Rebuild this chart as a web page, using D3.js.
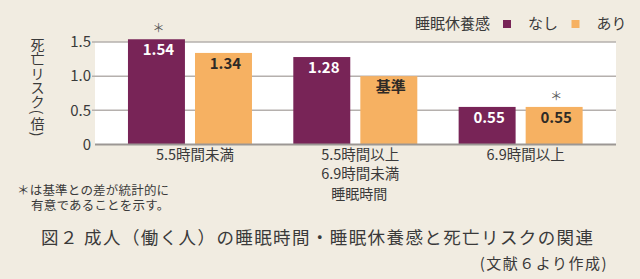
<!DOCTYPE html>
<html>
<head>
<meta charset="utf-8">
<script src="https://cdn.jsdelivr.net/npm/d3@7"></script>
<style>
  body { margin: 0; background: #f1ece1; }
  svg { display: block; font-family: "Noto Sans CJK JP", "Noto Sans", sans-serif; }
</style>
</head>
<body>
<div id="chart"></div>
<script>
// data
const groups = ["5.5時間未満", "5.5時間以上\n6.9時間未満", "6.9時間以上"];
const keys = ["なし", "あり"];
const nashi = [1.54, 1.28, 0.55];
const ari = [1.34, 1.0, 0.55];
const labelsNashi = ["1.54", "1.28", "0.55"];
const labelsAri = ["1.34", "基準", "0.55"];
const sigNashi = [true, false, false];
const sigAri = [false, false, true];
const yTicks = [0, 0.5, 1.0, 1.5];
const yTickLabels = ["0", "0.5", "1.0", "1.5"];
const yTitleChars = ["死", "亡", "リ", "ス", "ク", "(", "倍", ")"];

const colors = { "なし": "#782457", "あり": "#f6b162" };

const width = 640, height = 279;
const plot = { left: 95, right: 616, top: 42, bottom: 144.5 };

const svg = d3.select("#chart").append("svg")
  .attr("width", width)
  .attr("height", height);

svg.append("rect").attr("width", width).attr("height", height).attr("fill", "#f1ece1");

const y = d3.scaleLinear().domain([0, 1.5]).range([plot.bottom, plot.top]);

const x0 = d3.scaleBand().domain(groups).range([107.3, 603.3])
  .paddingInner(0.25).paddingOuter(0.125);
const x1 = d3.scaleBand().domain(keys).range([0, x0.bandwidth()]).paddingInner(0.15);

// white plot area
svg.append("rect")
  .attr("x", plot.left).attr("y", y(1.5))
  .attr("width", plot.right - plot.left).attr("height", y(0) - y(1.5))
  .attr("fill", "#ffffff");

// gridlines
svg.append("g").selectAll("line")
  .data(yTicks.filter(d => d > 0))
  .join("line")
  .attr("x1", plot.left - 3).attr("x2", plot.right)
  .attr("y1", d => y(d)).attr("y2", d => y(d))
  .attr("stroke", "#b5b0ad").attr("stroke-width", 1.5);

// y tick labels
svg.append("g").selectAll("text")
  .data(yTicks)
  .join("text")
  .attr("x", 91).attr("y", d => y(d))
  .attr("dy", "0.35em")
  .attr("text-anchor", "end")
  .attr("font-size", 15)
  .attr("fill", "#3a3a3a")
  .text((d, i) => yTickLabels[i]);

// y title, one glyph per line (vertical); brackets turned
let ty = 37;
svg.append("g").selectAll("text")
  .data(yTitleChars.map(c => {
    const paren = c === "(" || c === ")";
    const h = paren ? 8 : 14.2;
    const cy = ty + h / 2;
    ty += h;
    return { c, paren, cy };
  }))
  .join("text")
  .attr("x", 0).attr("y", 0)
  .attr("transform", d => `translate(37.5,${d.cy})` + (d.paren ? " rotate(90)" : ""))
  .attr("dominant-baseline", "central")
  .attr("text-anchor", "middle")
  .attr("font-size", 14)
  .attr("fill", "#3a3a3a")
  .text(d => d.c);

// bars
const rows = groups.map((g, i) => ({
  group: g,
  bars: [
    { key: "なし", value: nashi[i], label: labelsNashi[i], sig: sigNashi[i] },
    { key: "あり", value: ari[i], label: labelsAri[i], sig: sigAri[i] }
  ]
}));

const gGroup = svg.append("g").selectAll("g")
  .data(rows)
  .join("g")
  .attr("transform", d => `translate(${x0(d.group)},0)`);

gGroup.selectAll("rect")
  .data(d => d.bars)
  .join("rect")
  .attr("x", d => x1(d.key))
  .attr("y", d => y(d.value))
  .attr("width", x1.bandwidth())
  .attr("height", d => y(0) - y(d.value))
  .attr("fill", d => colors[d.key]);

gGroup.selectAll("text.val")
  .data(d => d.bars)
  .join("text")
  .attr("class", "val")
  .attr("x", d => x1(d.key) + x1.bandwidth() / 2 + 2)
  .attr("y", d => y(d.value) + 16)
  .attr("text-anchor", "middle")
  .attr("font-size", 15)
  .attr("font-weight", "bold")
  .attr("fill", d => d.key === "なし" ? "#ffffff" : "#2e2a26")
  .text(d => d.label);

gGroup.selectAll("text.sig")
  .data(d => d.bars.filter(b => b.sig))
  .join("text")
  .attr("class", "sig")
  .attr("x", d => x1(d.key) + x1.bandwidth() / 2 + 2)
  .attr("y", d => y(d.value) - 6)
  .attr("text-anchor", "middle")
  .attr("font-size", 12)
  .attr("fill", "#555")
  .text("＊");

// baseline
svg.append("line")
  .attr("x1", plot.left).attr("x2", plot.right)
  .attr("y1", y(0)).attr("y2", y(0))
  .attr("stroke", "#9c9794").attr("stroke-width", 2);

// category labels
const cat = svg.append("g").selectAll("text")
  .data(groups)
  .join("text")
  .attr("x", d => x0(d) + x0.bandwidth() / 2 + 5)
  .attr("y", 160)
  .attr("text-anchor", "middle")
  .attr("font-size", 14.5)
  .attr("fill", "#3a3a3a");
cat.selectAll("tspan")
  .data(d => d.split("\n"))
  .join("tspan")
  .attr("x", function() { return d3.select(this.parentNode).attr("x"); })
  .attr("dy", (d, i) => i === 0 ? 0 : 19)
  .text(d => d);

svg.append("text")
  .attr("x", x0(groups[1]) + x0.bandwidth() / 2 + 4)
  .attr("y", 198.5)
  .attr("text-anchor", "middle")
  .attr("font-size", 14)
  .attr("fill", "#3a3a3a")
  .text("睡眠時間");

// legend
const legend = svg.append("g").attr("font-size", 15).attr("fill", "#3a3a3a");
legend.append("text").attr("x", 415).attr("y", 29).text("睡眠休養感");
legend.append("rect").attr("x", 503).attr("y", 20).attr("width", 8).attr("height", 8).attr("fill", colors["なし"]);
legend.append("text").attr("x", 528).attr("y", 29).text("なし");
legend.append("rect").attr("x", 571.5).attr("y", 20).attr("width", 8).attr("height", 8).attr("fill", colors["あり"]);
legend.append("text").attr("x", 596.5).attr("y", 29).text("あり");

// footnote
const note = svg.append("g").attr("font-size", 12.5).attr("fill", "#3a3a3a");
note.append("text").attr("x", 17).attr("y", 194.5).attr("letter-spacing", 0.2).text("＊は基準との差が統計的に");
note.append("text").attr("x", 31).attr("y", 209.5).attr("letter-spacing", 0.2).text("有意であることを示す。");

// title
svg.append("text")
  .attr("x", 41).attr("y", 244)
  .attr("font-size", 17.5)
  .attr("letter-spacing", 1.4)
  .attr("fill", "#3a3a3a")
  .text("図２ 成人（働く人）の睡眠時間・睡眠休養感と死亡リスクの関連");

svg.append("text")
  .attr("x", 608).attr("y", 268.5)
  .attr("text-anchor", "end")
  .attr("font-size", 15)
  .attr("letter-spacing", 1.5)
  .attr("fill", "#3a3a3a")
  .text("(文献６より作成)");
</script>
</body>
</html>
